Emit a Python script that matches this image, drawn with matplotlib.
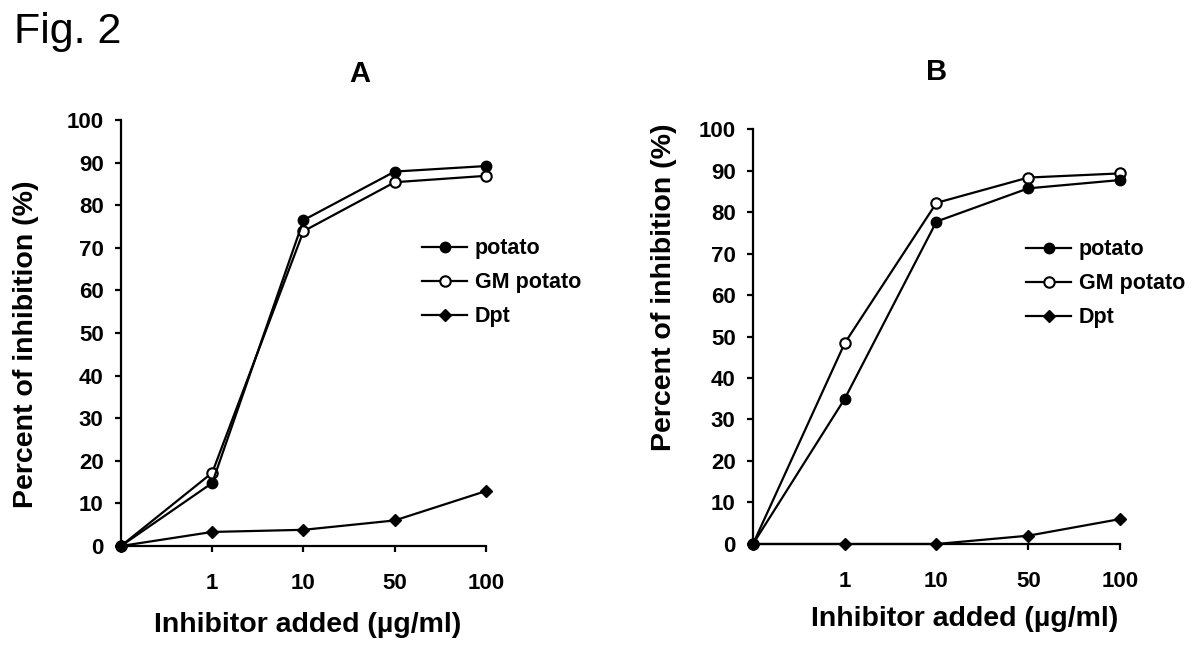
import matplotlib
matplotlib.use('Agg')
import matplotlib.pyplot as plt

plt.rcParams['font.family'] = ['Liberation Sans', 'DejaVu Sans']

# categories on the x axis (first one is the unlabeled zero dose)
doses = ['', '1', '10', '50', '100']

# panel A
a_potato = [0, 14.8, 76.5, 87.9, 89.2]
a_gm = [0, 17.2, 73.9, 85.4, 86.9]
a_dpt = [0, 3.3, 3.8, 6.0, 12.9]

# panel B
b_potato = [0, 35.0, 77.7, 85.7, 87.7]
b_gm = [0, 48.4, 82.2, 88.3, 89.3]
b_dpt = [0, 0, 0, 2.0, 6.0]

fig = plt.figure(figsize=(12, 6.46), dpi=100)
fig.text(0.012, 0.951, 'Fig. 2', fontsize=31, ha='left', va='center')


def draw_panel(ax, potato, gm, dpt, title, title_xy, ylab_xy, xlab_xy, leg_xy):
    x = range(len(doses))
    lw = 1.6
    ax.plot(x, dpt, color='black', lw=lw, marker='D', markersize=6.5,
            label='Dpt', clip_on=False, zorder=3)
    ax.plot(x, gm, color='black', lw=lw, marker='o', markersize=7.5,
            markerfacecolor='white', markeredgewidth=1.5, label='GM potato',
            clip_on=False, zorder=4)
    ax.plot(x, potato, color='black', lw=lw, marker='o', markersize=7.5,
            label='potato', clip_on=False, zorder=5)

    ax.set_xlim(0, 4)
    ax.set_ylim(0, 100)
    ax.set_yticks(range(0, 101, 10))
    ax.set_xticks(range(1, 5))
    ax.set_xticklabels(doses[1:])
    for s in ['top', 'right']:
        ax.spines[s].set_visible(False)
    for s in ['left', 'bottom']:
        ax.spines[s].set_linewidth(1.6)
    ax.tick_params(axis='both', width=1.6, length=4.5, labelsize=16)
    ax.tick_params(axis='x', pad=15)
    ax.tick_params(axis='y', pad=8)
    for lab in ax.get_xticklabels() + ax.get_yticklabels():
        lab.set_fontweight('bold')

    ax.set_ylabel('Percent of inhibition (%)', fontsize=20.5, fontweight='bold')
    ax.yaxis.set_label_coords(*ylab_xy)
    ax.set_xlabel('Inhibitor added (µg/ml)', fontsize=20.5, fontweight='bold')
    ax.xaxis.set_label_coords(*xlab_xy)
    ax.text(title_xy[0], title_xy[1], title, transform=ax.transAxes,
            fontsize=21, fontweight='bold', ha='center', va='center')

    handles, labels = ax.get_legend_handles_labels()
    ax.legend(handles[::-1], labels[::-1], loc='center left',
              bbox_to_anchor=leg_xy, frameon=False, borderpad=0,
              borderaxespad=0, handlelength=2.1, handletextpad=0.35,
              labelspacing=0.6, prop={'size': 15.5, 'weight': 'bold'})


ax_a = fig.add_axes([0.1008, 0.1548, 0.3042, 0.6594])
draw_panel(ax_a, a_potato, a_gm, a_dpt, 'A', (0.655, 1.108),
           (-0.225, 0.474), (0.512, -0.155), (0.825, 0.618))

ax_b = fig.add_axes([0.6275, 0.1579, 0.3058, 0.6424])
draw_panel(ax_b, b_potato, b_gm, b_dpt, 'B', (0.499, 1.138),
           (-0.207, 0.619), (0.578, -0.149), (0.744, 0.627))

fig.savefig('out.png', dpi=100)
